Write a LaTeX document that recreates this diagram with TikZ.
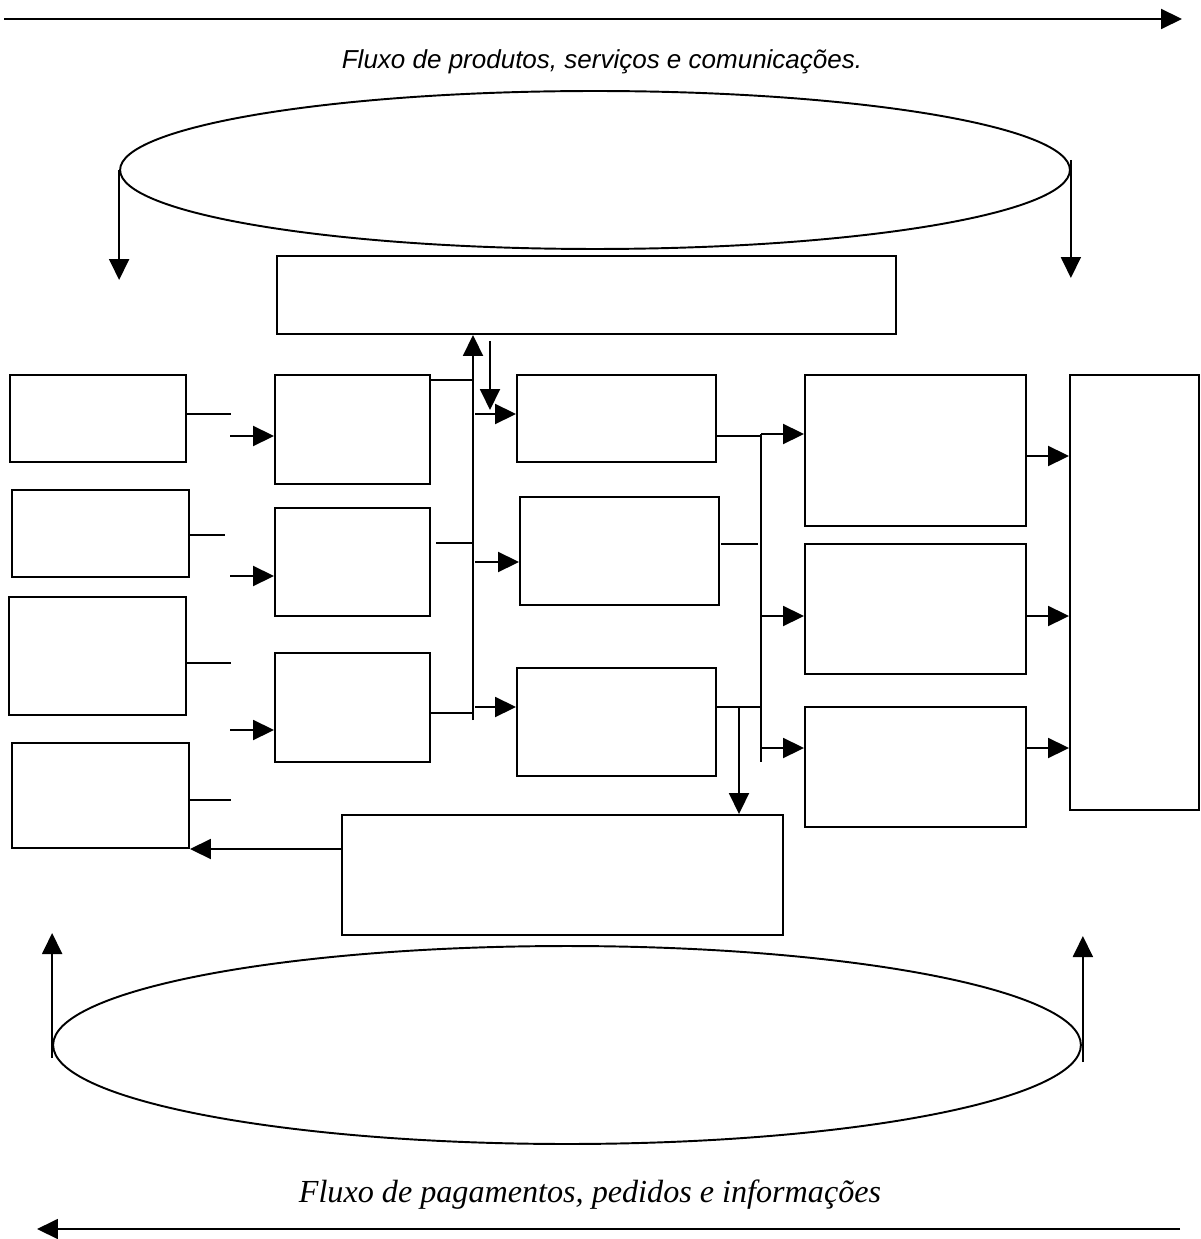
\documentclass[tikz,border=0pt]{standalone}
\usepackage{fontspec}
\usepackage{tikz}
\usetikzlibrary{arrows.meta,fit,shapes.geometric}
\newfontfamily\arialfont{Liberation Sans}
\newfontfamily\timesfont{Liberation Serif}

\begin{document}
\begin{tikzpicture}[x=0.02cm, y=-0.02cm, line width=1.1pt,
  arr/.style={-{Triangle[length=0.42cm,width=0.4cm]}},
  blk/.style={draw, rectangle, inner sep=0pt},
  oval/.style={draw, ellipse, inner sep=0pt}] %fluxos da cadeia
\useasboundingbox (0,0) rectangle (1200,1239);
% fluxo de cima
\coordinate (ia) at (4,19); \coordinate (fa) at (1182,19);
\draw[arr] (ia) -- (fa);
\node (txtA) at (602,62) {\arialfont\itshape\fontsize{14.8}{17}\selectfont Fluxo de produtos, serviços e comunicações.};
\node[oval, minimum width=19cm, minimum height=3.16cm] (ovA) at (595,170) {};
\draw[arr] (ovA.west) -- ++(0,110);
\draw[arr] (ovA.east) ++(0,-10) -- ++(0,118);
\node[blk, fit={(277,256) (896,334)}] (topo) {};
% caixas
\node[blk, fit={(10,375) (186,462)}] (a1) {};
\node[blk, fit={(12,490) (189,577)}] (a2) {};
\node[blk, fit={(9,597) (186,715)}] (a3) {};
\node[blk, fit={(12,743) (189,848)}] (a4) {};
\node[blk, fit={(275,375) (430,484)}] (b1) {};
\node[blk, fit={(275,508) (430,616)}] (b2) {};
\node[blk, fit={(275,653) (430,762)}] (b3) {};
\node[blk, fit={(517,375) (716,462)}] (c1) {};
\node[blk, fit={(520,497) (719,605)}] (c2) {};
\node[blk, fit={(517,668) (716,776)}] (c3) {};
\node[blk, fit={(805,375) (1026,526)}] (d1) {};
\node[blk, fit={(805,544) (1026,674)}] (d2) {};
\node[blk, fit={(805,707) (1026,827)}] (d3) {};
\node[blk, fit={(1070,375) (1199,810)}] (e) {};
\node[blk, fit={(342,815) (783,935)}] (base) {};
% ligacoes
\foreach \n/\y/\x in {a1/414/231, a2/535/225, a3/663/231, a4/800/231}
  \draw (\n.east |- 0,\y) -- (\x,\y);
\foreach \n/\y in {b1/436, b2/576, b3/730}
  \draw[arr] (230,\y) -- (\n.west |- 0,\y);
\draw (b1.east |- 0,380) -- (473,380);
\draw (436,543) -- (472,543);
\draw (b3.east |- 0,713) -- (473,713);
\coordinate (busB) at (473,720);
\draw[arr] (busB) -- (topo.south -| busB);
\draw[arr] (490,341) -- (490,410);
\foreach \n/\y in {c1/414, c2/562, c3/707}
  \draw[arr] (475,\y) -- (\n.west |- 0,\y);
\draw (c1.east |- 0,436) -- (761,436);
\draw (721,544) -- (758,544);
\draw (c3.east |- 0,707) -- (761,707);
\coordinate (busC) at (739,707);
\draw[arr] (busC) -- (base.north -| busC);
\draw (761,434) -- (761,762);
\foreach \n/\y in {d1/434, d2/616, d3/748}
  \draw[arr] (761,\y) -- (\n.west |- 0,\y);
\foreach \n/\y in {d1/456, d2/616, d3/748}
  \draw[arr] (\n.east |- 0,\y) -- (e.west |- 0,\y);
\draw[arr] (base.west |- 0,849) -- (a4.east |- 0,849);
% fluxo de baixo
\node[oval, minimum width=20.56cm, minimum height=3.96cm] (ovB) at (567,1045) {};
\draw[arr] (ovB.west) ++(0,13) -- ++(0,-125);
\draw[arr] (ovB.east) ++(1,17) -- ++(0,-126);
\node (txtB) at (590,1195) {\timesfont\itshape\fontsize{18.3}{21}\selectfont Fluxo de pagamentos, pedidos e informações};
\coordinate (ib) at (1180,1229); \coordinate (fb) at (37,1229);
\draw[arr] (ib) -- (fb);
\end{tikzpicture}
\end{document}
